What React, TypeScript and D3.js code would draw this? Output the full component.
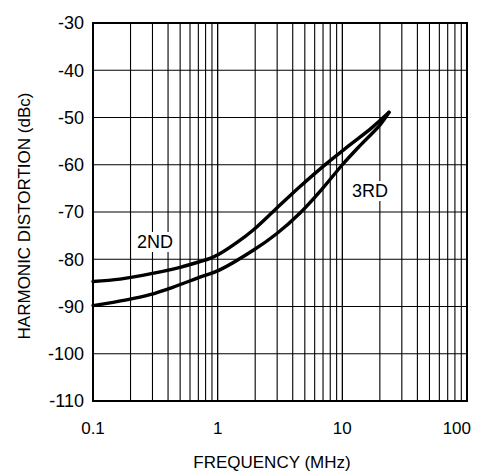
import React from 'react';
import * as d3 from 'd3';

// frequency (MHz) vs harmonic distortion (dBc)
const freq2nd = [0.1, 0.165, 0.3, 0.5, 0.72, 0.87, 1.03, 1.42, 1.93, 2.97, 4.58, 7.5, 11.5, 17, 23.7];
const dist2nd = [-84.7, -84.2, -83.0, -81.7, -80.5, -79.8, -78.9, -76.5, -73.8, -69.2, -64.6, -59.7, -55.8, -52.3, -48.9];

const freq3rd = [0.1, 0.186, 0.286, 0.44, 0.72, 1.03, 1.93, 2.97, 4.58, 7.0, 10, 13.8, 20, 23.7];
const dist3rd = [-89.8, -88.6, -87.5, -85.9, -83.8, -82.3, -78.1, -74.6, -70.2, -64.9, -60.0, -56.0, -51.6, -48.9];

const yTicks = [-30, -40, -50, -60, -70, -80, -90, -100, -110];
const xTicks = [0.1, 1, 10, 100];
const xTickLabels = ['0.1', '1', '10', '100'];

const W = 480;
const H = 474;
const margin = { top: 23, right: 13, bottom: 73, left: 93 };
const width = W - margin.left - margin.right;
const height = H - margin.top - margin.bottom;

export default function App() {
  const x = d3.scaleLog().domain([0.1, 100]).range([0, width]);
  const y = d3.scaleLinear().domain([-110, -30]).range([height, 0]);

  // minor grid: 2..9 of each decade
  const minor: number[] = [];
  for (let d = 0.1; d < 100; d *= 10) {
    for (let k = 2; k <= 9; k++) minor.push(+(d * k).toPrecision(3));
  }

  const line = d3.line<[number, number]>()
    .x(d => x(d[0]))
    .y(d => y(d[1]))
    .curve(d3.curveCatmullRom.alpha(0.5));

  const pts2 = freq2nd.map((f, i) => [f, dist2nd[i]] as [number, number]);
  const pts3 = freq3rd.map((f, i) => [f, dist3rd[i]] as [number, number]);

  const font = 'Arial, "Liberation Sans", sans-serif';

  return (
    <svg width={W} height={H} style={{ position: 'absolute', left: 0, top: 0, background: '#fff' }}>
      <g transform={`translate(${margin.left},${margin.top})`}>
        {minor.map(v => (
          <line key={'m' + v} x1={x(v)} x2={x(v)} y1={0} y2={height} stroke="#000" strokeWidth={1.1} />
        ))}
        {xTicks.map(v => (
          <line key={'x' + v} x1={x(v)} x2={x(v)} y1={0} y2={height} stroke="#000" strokeWidth={1.3} />
        ))}
        {yTicks.map(v => (
          <line key={'y' + v} x1={0} x2={width} y1={y(v)} y2={y(v)} stroke="#000" strokeWidth={1.2} />
        ))}
        <rect x={0} y={0} width={width} height={height} fill="none" stroke="#000" strokeWidth={2} />

        <path d={line(pts2) || ''} fill="none" stroke="#000" strokeWidth={3.4} strokeLinejoin="round" strokeLinecap="round" />
        <path d={line(pts3) || ''} fill="none" stroke="#000" strokeWidth={3.4} strokeLinejoin="round" strokeLinecap="round" />

        <rect x={137 - margin.left - 3} y={248 - margin.top - 16} width={43} height={20} fill="#fff" />
        <text x={137 - margin.left} y={248 - margin.top} fontFamily={font} fontSize={18} fill="#000">2ND</text>
        <rect x={352 - margin.left - 3} y={197 - margin.top - 16} width={44} height={20} fill="#fff" />
        <text x={352 - margin.left} y={197 - margin.top} fontFamily={font} fontSize={18} fill="#000">3RD</text>

        {yTicks.map(v => (
          <text key={'yl' + v} x={-9} y={y(v)} dy="0.36em" textAnchor="end" fontFamily={font} fontSize={18} fill="#000">
            {v}
          </text>
        ))}
        {xTicks.map((v, i) => {
          const last = i === xTicks.length - 1;
          return (
            <text
              key={'xl' + v}
              x={last ? width + 4 : x(v)}
              y={height + 33}
              textAnchor={last ? 'end' : 'middle'}
              fontFamily={font}
              fontSize={17}
              fill="#000"
            >
              {xTickLabels[i]}
            </text>
          );
        })}
        <text x={272 - margin.left} y={468 - margin.top} textAnchor="middle" fontFamily={font} fontSize={17} fill="#000">
          FREQUENCY (MHz)
        </text>
        <text
          transform={`translate(${30 - margin.left},${216 - margin.top}) rotate(-90)`}
          textAnchor="middle"
          fontFamily={font}
          fontSize={17}
          fill="#000"
        >
          HARMONIC DISTORTION (dBc)
        </text>
      </g>
    </svg>
  );
}
